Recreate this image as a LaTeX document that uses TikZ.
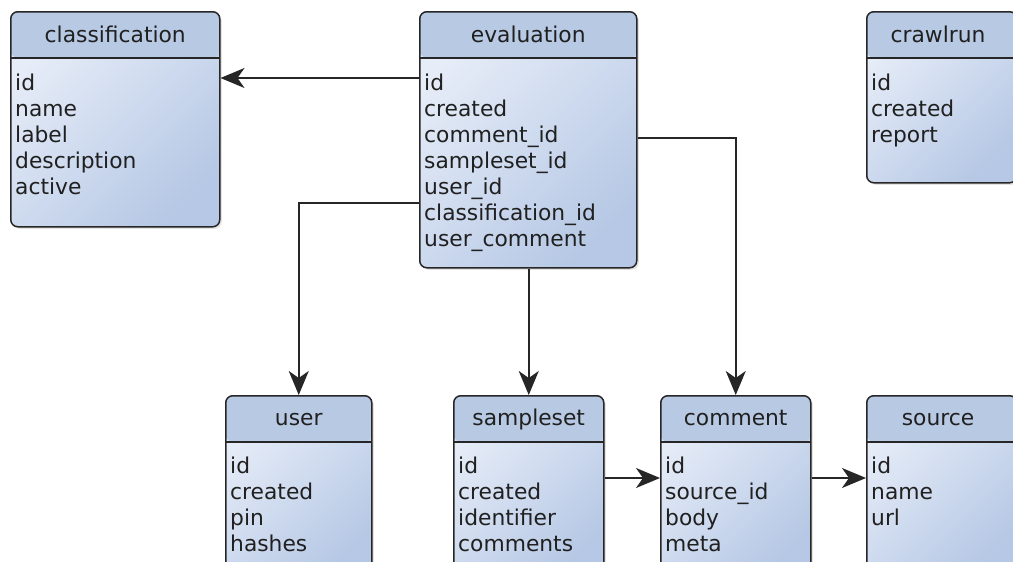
\documentclass[tikz,border=0pt]{standalone}
\usepackage{fontspec}
\setmainfont{DejaVu Sans}
\usepackage{xcolor}
\usepackage{tikz}
\usetikzlibrary{arrows.meta,positioning,calc,shadows}

\definecolor{tblline}{HTML}{262626}
\definecolor{tblhead}{HTML}{B8C9E4}
\definecolor{tbllight}{HTML}{E7EDF8}
\definecolor{tbldark}{HTML}{B6C8E5}
\definecolor{tbltext}{HTML}{202020}

\begin{document}
\begin{tikzpicture}[x=1pt, y=-1pt,
  tbl/.style={draw=tblline, line width=1.5pt, rounded corners=7pt, anchor=north west,
    top color=tbllight, bottom color=tbldark, shading angle=45,
    drop shadow={opacity=0.22, shadow xshift=2pt, shadow yshift=-2pt},
    path picture={
      \fill[tblhead] (path picture bounding box.north west) rectangle ([yshift=-46pt]path picture bounding box.north east);
      \draw[tblline, line width=1.5pt] ([yshift=-46pt]path picture bounding box.north west) -- ([yshift=-46pt]path picture bounding box.north east);
    }},
  title/.style={anchor=base, inner sep=0pt, text=tbltext, font=\fontsize{21.8}{26}\selectfont},
  field/.style={anchor=base west, inner sep=0pt, text=tbltext, font=\fontsize{21.8}{26}\selectfont},
  conn/.style={draw=tblline, line width=1.5pt, -{Stealth[length=24pt, width=20pt, inset=7pt]}}]

\useasboundingbox (0,0) rectangle (1013,562);
\fill[white] (0,0) rectangle (1013,562);

% tables, top row
\node[tbl, minimum width=209pt, minimum height=215pt] (classification) at (10,11) {};
\node[title] (classification-t) at ($(classification.north)+(0,31)$) {classification};
\foreach \f [count=\i] in {id,name,label,description,active}
  \node[field] (classification-\i) at ($(classification.north west)+(5,53+26*\i)$) {\f};

\node[tbl, minimum width=217pt, minimum height=256pt] (evaluation) at (419,11) {};
\node[title] (evaluation-t) at ($(evaluation.north)+(0,31)$) {evaluation};
\foreach \f [count=\i] in {id,created,comment\_id,sampleset\_id,user\_id,classification\_id,user\_comment}
  \node[field] (evaluation-\i) at ($(evaluation.north west)+(5,53+26*\i)$) {\f};

\node[tbl, minimum width=150pt, minimum height=171pt] (crawlrun) at (866,11) {};
\node[title] (crawlrun-t) at ($(crawlrun.north west)+(72,31)$) {crawlrun};
\foreach \f [count=\i] in {id,created,report}
  \node[field] (crawlrun-\i) at ($(crawlrun.north west)+(5,53+26*\i)$) {\f};

% tables, bottom row (cut off by the page)
\node[tbl, minimum width=146pt, minimum height=180pt] (user) at (225,395) {};
\node[title] (user-t) at ($(user.north)+(0,30)$) {user};
\foreach \f [count=\i] in {id,created,pin,hashes}
  \node[field] (user-\i) at ($(user.north west)+(5,52+26*\i)$) {\f};

\node[tbl, minimum width=150pt, minimum height=180pt] (sampleset) at (453,395) {};
\node[title] (sampleset-t) at ($(sampleset.north)+(0,30)$) {sampleset};
\foreach \f [count=\i] in {id,created,identifier,comments}
  \node[field] (sampleset-\i) at ($(sampleset.north west)+(5,52+26*\i)$) {\f};

\node[tbl, minimum width=150pt, minimum height=180pt] (comment) at (660,395) {};
\node[title] (comment-t) at ($(comment.north)+(0,30)$) {comment};
\foreach \f [count=\i] in {id,source\_id,body,meta}
  \node[field] (comment-\i) at ($(comment.north west)+(5,52+26*\i)$) {\f};

\node[tbl, minimum width=150pt, minimum height=180pt] (source) at (866,395) {};
\node[title] (source-t) at ($(source.north west)+(72,30)$) {source};
\foreach \f [count=\i] in {id,name,url}
  \node[field] (source-\i) at ($(source.north west)+(5,52+26*\i)$) {\f};

% foreign keys
\draw[conn] ([yshift=-67pt]evaluation.north west) -- ([yshift=-67pt]classification.north east);
\draw[conn] ([yshift=-192pt]evaluation.north west) -| (user.north);
\draw[conn] (evaluation.south -| sampleset.north) -- (sampleset.north);
\draw[conn] ([yshift=-127pt]evaluation.north east) -| (comment.north);
\draw[conn] ([yshift=-83pt]sampleset.north east) -- ([yshift=-83pt]comment.north west);
\draw[conn] ([yshift=-83pt]comment.north east) -- ([yshift=-83pt]source.north west);
\end{tikzpicture}
\end{document}
